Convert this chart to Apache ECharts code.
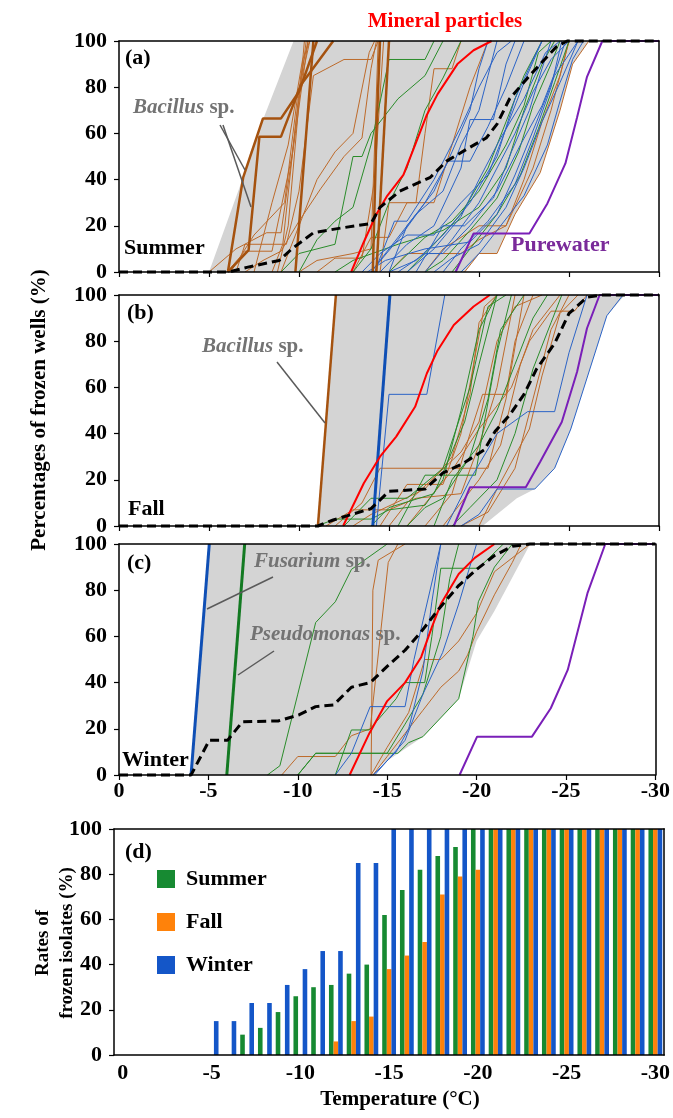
<!DOCTYPE html>
<html>
<head>
<meta charset="utf-8">
<script src="https://cdn.jsdelivr.net/npm/echarts/dist/echarts.min.js"></script>
<style>
  html, body { margin: 0; padding: 0; background: #fff; }
  #chart { width: 673px; height: 1118px; }
</style>
</head>
<body>
<div id="chart"></div>
<script>
const FONT = "'Liberation Serif', 'Times New Roman', serif";

// ---- panel (a) summer : [temperature, % frozen] ----
const aUpper = [[-5,0],[-6.9,41],[-7.3,52],[-9.7,100],[-30,100]];
const aLower = [[-19.2,0],[-20,8],[-21,8],[-22,25],[-23.4,43],[-24.5,70],[-25.2,90],[-26.1,100],[-30,100]];
const aMean = [[0,0],[-6.1,0],[-7.1,2],[-8.9,5],[-9.6,10],[-10.8,17],[-12.3,19],[-14,21],[-14.5,28],[-15.6,35],[-17.3,41],[-18.2,48],[-19.5,54],[-20.4,58],[-21,64],[-21.7,75],[-22.7,84],[-23.4,90],[-24.3,97.5],[-24.9,100],[-30,100]];
const aMineral = [[-12.9,0],[-13.6,13],[-14.3,25],[-14.9,33],[-15.8,42],[-16.5,56],[-17.1,68],[-17.7,77],[-18.8,90],[-19.7,96],[-20.7,100]];
const aWater = [[-18.7,0],[-19.7,16.7],[-22.8,16.7],[-23.8,29.7],[-24.8,47],[-25.45,67],[-26,84.5],[-26.85,100],[-30,100]];
const aBacillus = [
  [[-6.05,0],[-6.9,41],[-8.0,66.5],[-9.0,66.5],[-10.0,78],[-11.0,100]],
  [[-6.05,0],[-7.2,9.5],[-7.8,58.6],[-9.0,58.6],[-10.1,81],[-11.9,100]],
  [[-9.8,0],[-10.2,40],[-10.8,100]],
  [[-14.1,0],[-14.3,60],[-14.5,100]],
  [[-14.3,0],[-15,100]]
];
const aBrown = [
  [[-5,0],[-6.5,10],[-8.2,17],[-9,17],[-9.8,60],[-10.5,100]],
  [[-6,0],[-7,9],[-8.5,9],[-9.6,50],[-10.4,100]],
  [[-6.2,0],[-7.5,16],[-9.2,30],[-9.9,75],[-10.6,100]],
  [[-8.5,0],[-9.1,12],[-10.1,85],[-10.5,100]],
  [[-8.8,0],[-9.4,20],[-10.3,100]],
  [[-7,0],[-8,5],[-9,9],[-10,22],[-11.2,36],[-12.5,50],[-13.5,58],[-14,88],[-14.3,100]],
  [[-9,0],[-10,20],[-11,40],[-12,52],[-13,60],[-13.9,95],[-14.2,100]],
  [[-10,0],[-11,5],[-13,8],[-14,10],[-14.4,100]],
  [[-6.5,0],[-7,12],[-9.3,12],[-10,35],[-10.8,85],[-12.5,92],[-14,92],[-14.4,100]],
  [[-7.5,0],[-8.5,30],[-9.4,55],[-10.2,92],[-10.6,100]],
  [[-11,0],[-12,6],[-13.5,6],[-14.2,40],[-14.7,100]],
  [[-14.5,0],[-15,30],[-16.5,30],[-17,60],[-17.5,88],[-18.5,88],[-19,100]],
  [[-15,0],[-16,8],[-19,8],[-20,14],[-21.5,20],[-23,45],[-24,70],[-25,100]],
  [[-19.2,0],[-20,8],[-21,8],[-22,25],[-23.4,43],[-24.5,70],[-25.2,90],[-26.1,100]],
  [[-13,0],[-14,15],[-15,15],[-16,30],[-17.5,30],[-18.5,55],[-19.5,80],[-20.5,100]],
  [[-17,0],[-18,10],[-20,20],[-21.5,20],[-22.5,40],[-23.5,65],[-24.5,85],[-25,100]]
];
const aGreen = [
  [[-10,0],[-11,14],[-12,22],[-13,28],[-14,55],[-15,92],[-17,92],[-17.5,100]],
  [[-13,0],[-14,10],[-15,30],[-16,45],[-17,70],[-18,84],[-19,100]],
  [[-9,0],[-10,8],[-12,12],[-13,50],[-13.5,50],[-14,60],[-15.5,75],[-17,85],[-18,100]],
  [[-16,0],[-17.5,12],[-19,25],[-20.5,45],[-21.5,65],[-22.5,85],[-23.5,100]],
  [[-17,0],[-18,5],[-19.5,18],[-21,32],[-22.2,52],[-23,72],[-24,90],[-24.5,100]],
  [[-15,0],[-17,15],[-18.5,22],[-20,35],[-21.5,55],[-22.5,72],[-23.3,95],[-24,100]],
  [[-18.5,0],[-19.5,10],[-21,25],[-22.3,42],[-23.3,62],[-24.2,82],[-25,100]],
  [[-12,0],[-13,5],[-15.5,12],[-18,18],[-20,28],[-21.5,45],[-22.5,70],[-23.5,90],[-24.2,100]]
];
const aBlue = [
  [[-14,0],[-15,10],[-16.5,25],[-18,35],[-19,55],[-20,70],[-20.5,85],[-21,100]],
  [[-14.5,0],[-16,12],[-17.5,20],[-19,45],[-19.5,66],[-20.8,66],[-21.5,90],[-22,100]],
  [[-15,0],[-16.5,5],[-18,16],[-19.5,30],[-21,50],[-22,75],[-23,92],[-23.5,100]],
  [[-13.5,0],[-14.5,8],[-16,16],[-17.5,16],[-19,30],[-20.5,42],[-21.5,62],[-22.5,82],[-23.5,100]],
  [[-16,0],[-17.5,10],[-19,24],[-20,40],[-21.2,58],[-22.5,75],[-23.7,95],[-24.5,100]],
  [[-17,0],[-18.5,14],[-20,30],[-21,45],[-22,60],[-23,78],[-24,92],[-25,100]],
  [[-15.5,0],[-17,8],[-18,8],[-19.5,20],[-21,35],[-22.3,55],[-23.5,72],[-24.3,88],[-24.8,100]],
  [[-14,0],[-15.5,14],[-17,30],[-18.3,48],[-19.5,48],[-20.5,63],[-21.5,80],[-22.5,100]],
  [[-18,0],[-19,10],[-20.5,22],[-22,38],[-23,58],[-24,80],[-24.6,100]],
  [[-16.5,0],[-18,20],[-19.2,20],[-20.8,32],[-21.8,52],[-22.8,70],[-23.5,88],[-24,100]],
  [[-13.8,0],[-14.8,5],[-17,10],[-19.5,13],[-21,25],[-22,42],[-23.2,65],[-24.2,85],[-25.5,100]],
  [[-17.5,0],[-18.5,6],[-20,12],[-21.5,28],[-22.5,45],[-23.5,65],[-24.5,82],[-25.5,100]],
  [[-15,0],[-16,20],[-17.5,35],[-18.5,52],[-19.5,70],[-20,88],[-20.5,100]],
  [[-19,0],[-20,8],[-21,18],[-22.5,33],[-23.8,55],[-24.5,74],[-25.2,92],[-25.8,100]],
  [[-14.2,0],[-15.3,22],[-16,22],[-17.5,40],[-19,63],[-20,80],[-21,95],[-21.8,100]]
];

// ---- panel (b) fall ----
const bUpper = [[-11.05,0],[-12.05,100],[-30,100]];
const bLower = [[-20.2,0],[-22.1,12],[-23.1,16],[-24.2,25],[-25.1,42],[-27.1,91],[-28.1,100],[-30,100]];
const bMean = [[0,0],[-11.05,0],[-11.9,2.6],[-14,7.5],[-15,15],[-17,16],[-18,23],[-19.1,27],[-20.3,33],[-20.9,41],[-21.7,48],[-22.5,57],[-23.2,68],[-24.2,79],[-25,92],[-26,99],[-26.8,100],[-30,100]];
const bMineral = [[-12.45,0],[-13.6,18.5],[-14.5,30],[-15.4,38.7],[-16.45,51.6],[-17.1,66],[-17.7,76],[-18.6,87],[-19.7,95],[-20.6,100]];
const bWater = [[-18.6,0],[-19.5,16.8],[-22.6,16.8],[-23.4,27.8],[-24.6,45],[-25.45,66.8],[-26,85.6],[-26.7,100],[-30,100]];
const bBacillus = [[-11.05,0],[-12.05,100]];
const bBlueBold = [[-14.1,0],[-15.05,100]];
const bBrown = [
  [[-11.5,0],[-13,7],[-15,7],[-16.5,12],[-19,14],[-20,35],[-21,60],[-22,100]],
  [[-12,0],[-13.5,10],[-14.5,25],[-20.5,25],[-21.5,55],[-22.5,100]],
  [[-13,0],[-14,5],[-17,16],[-18.5,30],[-19.5,57],[-20,88],[-21,100]],
  [[-15,0],[-16,10],[-19,32],[-20,45],[-21,80],[-22,95],[-23.5,100]],
  [[-17,0],[-18.5,14],[-19.5,40],[-20.2,57],[-21.5,57],[-22,80],[-23,100]],
  [[-18,0],[-19,10],[-20,20],[-21.2,35],[-22.3,70],[-23,85],[-24.5,100]],
  [[-14.5,0],[-16,18],[-18,18],[-19,40],[-19.7,70],[-20.3,95],[-21,100]],
  [[-19,0],[-20.5,6],[-22,25],[-23,55],[-24,85],[-25,100]],
  [[-16,0],[-18.5,24],[-20,42],[-21.8,60],[-22.8,80],[-24,93],[-25.3,93],[-26,100]],
  [[-20,0],[-21,16],[-22.8,42],[-23.5,65],[-24.5,92],[-25.5,100]]
];
const bGreen = [
  [[-11,0],[-12,3],[-14,3],[-15,7],[-17,9],[-18,20],[-19,50],[-20,85],[-21,100]],
  [[-12.5,0],[-14,12],[-16,12],[-18,25],[-19.5,60],[-20.5,95],[-21.5,100]],
  [[-16,0],[-17,8],[-18,12],[-19.5,30],[-20.5,55],[-21.2,85],[-22.5,100]],
  [[-17.5,0],[-18.5,20],[-20,35],[-21,50],[-22,70],[-23,90],[-23.8,100]],
  [[-14,0],[-15,8],[-17.5,14],[-19.2,45],[-20,70],[-21,100]],
  [[-18.5,0],[-19.5,8],[-21,20],[-22,40],[-23,68],[-24,88],[-24.6,100]],
  [[-15.5,0],[-17,22],[-19.8,22],[-20.3,45],[-21,75],[-21.8,100]]
];
const bBlue = [
  [[-14.3,0],[-15,57],[-17.1,57],[-18.1,100]],
  [[-19,0],[-20,5],[-21,16],[-23.1,16],[-24.2,25],[-25.1,42],[-27.1,91],[-28,100]],
  [[-18.2,0],[-19.5,20],[-21,40],[-22.7,49.5],[-24.2,49.5],[-25,75],[-26,100]]
];

// ---- panel (c) winter ----
const cUpper = [[-4.03,0],[-5.05,100],[-30,100]];
const cLower = [[-14.1,0],[-14.6,4],[-17,16.6],[-19,33],[-20,58],[-21,71],[-23,100],[-30,100]];
const cMean = [[0,0],[-4.03,0],[-5.05,15],[-6.07,15],[-6.9,23],[-8.9,23.4],[-10.06,26],[-11,29.6],[-12,30.3],[-13,38],[-14.05,40],[-15,47],[-16,54],[-16.9,62],[-17.9,72],[-19,82],[-20,89],[-21,95],[-22,99],[-23,100],[-30,100]];
const cMineral = [[-12.9,0],[-14,18],[-15,32],[-16,40],[-16.9,51],[-17.5,64],[-18,74],[-19,87],[-19.9,94],[-21,100]];
const cWater = [[-19.05,0],[-20.03,16.6],[-23.1,16.6],[-24.15,28.9],[-25.1,45.5],[-26.2,78.6],[-27.2,100],[-30,100]];
const cFusarium = [[-4.03,0],[-5.05,100]];
const cPseudomonas = [[-6.03,0],[-7.03,100]];
const cBrown = [
  [[-9.1,0],[-10,8],[-12.1,8],[-13,17],[-14.05,20],[-15.06,92],[-15.6,100]],
  [[-14.1,0],[-15,12],[-16.2,27],[-17.1,50],[-18,50],[-19,58],[-20,70],[-21,88],[-23,100]],
  [[-14.2,0],[-15,8],[-16,18],[-17,28],[-18,38],[-19,45],[-19.5,52],[-20,62],[-21,78],[-22,92],[-22.5,100]],
  [[-14.1,0],[-14.2,80],[-14.5,93],[-16,100]]
];
const cGreen = [
  [[-8.3,0],[-9,4],[-10,35],[-11,66],[-12.1,75],[-13,89],[-15,100]],
  [[-10,0],[-11,9.4],[-15,9.4],[-16,22],[-17,35],[-18,60],[-18.5,85],[-19,100]],
  [[-12.1,0],[-13,19.5],[-14,19.5],[-15.5,33],[-16,40],[-17.1,40],[-17.5,60],[-18,89.5],[-20.1,89.5],[-21.5,100]],
  [[-10,0],[-11,9.4],[-15.6,9.4],[-16.2,14],[-17,16.6],[-19,33],[-19.8,60],[-20.1,75],[-21,90],[-22,100]]
];
const cBlue = [
  [[-12.1,0],[-13,9.4],[-14.05,29.6],[-16,29.6],[-16.5,50],[-17.1,70],[-18,100]],
  [[-14.3,0],[-16,15],[-17,35],[-18.1,53],[-19,74],[-20,100]],
  [[-14.2,0],[-15.5,10],[-16.2,20],[-17,45],[-17.5,75],[-18,100]]
];

// ---- panel (d) rates of frozen isolates ----
const tempCats = ['0','-1','-2','-3','-4','-5','-6','-7','-8','-9','-10','-11','-12','-13','-14','-15',
  '-16','-17','-18','-19','-20','-21','-22','-23','-24','-25','-26','-27','-28','-29','-30'];
const summerRate = [0,0,0,0,0,0,0,9,12,19,26,30,31,36,40,62,73,82,88,92,100,100,100,100,100,100,100,100,100,100,100];
const fallRate   = [0,0,0,0,0,0,0,0,0,0,0,0,6,15,17,38,44,50,71,79,82,100,100,100,100,100,100,100,100,100,100];
const winterRate = [0,0,0,0,0,15,15,23,23,31,38,46,46,85,85,100,100,100,100,100,100,100,100,100,100,100,100,100,100,100,100];

const BROWN = '#bd6a2a', BROWN_BOLD = '#a5520f';
const GREEN = '#2a8c2a', BLUE = '#2b63c6';
const TICK_FS = 22, TEXT_FS = 22;

const series = [];

function envelope(gi, pts, color, z) {
  series.push({
    type: 'line', xAxisIndex: gi * 2, yAxisIndex: gi * 2, data: pts,
    symbol: 'none', silent: true, z: z,
    lineStyle: { width: 0 }, areaStyle: { color: color, opacity: 1 }
  });
}

function lines(gi, list, color, width, z) {
  list.forEach(pts => {
    series.push({
      type: 'line', xAxisIndex: gi * 2, yAxisIndex: gi * 2, data: pts,
      symbol: 'none', silent: true, z: z,
      lineStyle: { color: color, width: width }
    });
  });
}

function dashed(gi, pts) {
  series.push({
    type: 'line', xAxisIndex: gi * 2, yAxisIndex: gi * 2, data: pts,
    symbol: 'none', silent: true, z: 8, clip: false,
    lineStyle: { color: '#000', width: 3, type: [9, 5] }
  });
}

// (a)
envelope(0, aUpper, '#d4d4d4', 1);
envelope(0, aLower, '#ffffff', 2);
lines(0, aBrown, BROWN, 1, 3);
lines(0, aGreen, GREEN, 1, 3);
lines(0, aBlue, BLUE, 1, 3);
lines(0, aBacillus, BROWN_BOLD, 2.5, 4);
lines(0, [aMineral], '#ff0000', 2, 5);
lines(0, [aWater], '#7a1fb8', 2, 5);
dashed(0, aMean);

// (b)
envelope(1, bUpper, '#d4d4d4', 1);
envelope(1, bLower, '#ffffff', 2);
lines(1, bBrown, BROWN, 1, 3);
lines(1, bGreen, GREEN, 1, 3);
lines(1, bBlue, BLUE, 1, 3);
lines(1, [bBacillus], BROWN_BOLD, 2.5, 4);
lines(1, [bBlueBold], '#0f4fb5', 3, 4);
lines(1, [bMineral], '#ff0000', 2, 5);
lines(1, [bWater], '#7a1fb8', 2, 5);
dashed(1, bMean);

// (c)
envelope(2, cUpper, '#d4d4d4', 1);
envelope(2, cLower, '#ffffff', 2);
lines(2, cBrown, BROWN, 1, 3);
lines(2, cGreen, GREEN, 1, 3);
lines(2, cBlue, BLUE, 1, 3);
lines(2, [cFusarium], '#0f4fb5', 3, 4);
lines(2, [cPseudomonas], '#137a22', 3, 4);
lines(2, [cMineral], '#ff0000', 2, 5);
lines(2, [cWater], '#7a1fb8', 2, 5);
dashed(2, cMean);

// (d)
const barColors = { Summer: '#178a32', Fall: '#ff820a', Winter: '#1456c8' };
[['Summer', summerRate], ['Fall', fallRate], ['Winter', winterRate]].forEach(([name, vals]) => {
  series.push({
    type: 'bar', name: name, xAxisIndex: 6, yAxisIndex: 6, data: vals,
    barWidth: 4.6, barGap: '0%', itemStyle: { color: barColors[name] }, silent: true
  });
});

const axisLine = { show: true, onZero: false, lineStyle: { color: '#000', width: 1.5 } };
const labelStyle = { fontFamily: FONT, fontWeight: 'bold', fontSize: TICK_FS, color: '#000' };

const grids = [
  { left: 119, top: 41, width: 540, height: 231 },
  { left: 119, top: 295, width: 540, height: 231 },
  { left: 119, top: 544, width: 540, height: 231 },
  { left: 114, top: 829, width: 551, height: 226 }
];

const xAxes = [], yAxes = [];
for (let i = 0; i < 3; i++) {
  xAxes.push({
    gridIndex: i, type: 'value', min: -30, max: 0, interval: 5, inverse: true, z: 10,
    axisLine: axisLine, axisTick: { show: true, length: 5, lineStyle: { color: '#000', width: 1.2 } },
    axisLabel: Object.assign({ show: i === 2, margin: 5 }, labelStyle), splitLine: { show: false }
  });
  xAxes.push({
    gridIndex: i, type: 'value', position: 'top', min: -30, max: 0, inverse: true, z: 10,
    axisLine: axisLine, axisTick: { show: false }, axisLabel: { show: false }, splitLine: { show: false }
  });
  yAxes.push({
    gridIndex: i, type: 'value', min: 0, max: 100, interval: 20, z: 10,
    axisLine: axisLine, axisTick: { show: true, length: 5, lineStyle: { color: '#000', width: 1.2 } },
    axisLabel: Object.assign({ margin: 12 }, labelStyle), splitLine: { show: false }
  });
  yAxes.push({
    gridIndex: i, type: 'value', position: 'right', min: 0, max: 100, z: 10,
    axisLine: axisLine, axisTick: { show: false }, axisLabel: { show: false }, splitLine: { show: false }
  });
}
xAxes.push({
  gridIndex: 3, type: 'category', data: tempCats, z: 10,
  axisLine: axisLine, axisTick: { show: false },
  axisLabel: Object.assign({ interval: 4, margin: 7 }, labelStyle), splitLine: { show: false }
});
xAxes.push({
  gridIndex: 3, type: 'value', position: 'top', min: 0, max: 1, z: 10,
  axisLine: axisLine, axisTick: { show: false }, axisLabel: { show: false }, splitLine: { show: false }
});
yAxes.push({
  gridIndex: 3, type: 'value', min: 0, max: 100, interval: 20, z: 10,
  axisLine: axisLine, axisTick: { show: true, length: 5, lineStyle: { color: '#000', width: 1.2 } },
  axisLabel: Object.assign({ margin: 12 }, labelStyle), splitLine: { show: false }
});
yAxes.push({
  gridIndex: 3, type: 'value', position: 'right', min: 0, max: 100, z: 10,
  axisLine: axisLine, axisTick: { show: false }, axisLabel: { show: false }, splitLine: { show: false }
});

function txt(x, y, text, opts) {
  const st = Object.assign({
    text: text, fontFamily: FONT, fontWeight: 'bold', fontSize: TEXT_FS, fill: '#000',
    align: 'left', verticalAlign: 'middle', textAlign: 'left', textVerticalAlign: 'middle'
  }, opts || {});
  return { type: 'text', x: x, y: y, z: 100, style: st };
}
function italicSp(x, y, word) {
  return txt(x, y, '{i|' + word + '} sp.', {
    fill: '#737373', fontSize: 21,
    rich: { i: { fontStyle: 'italic', fontWeight: 'bold', fontSize: 21, fontFamily: FONT, fill: '#737373', color: '#737373' } }
  });
}
function pointer(x1, y1, x2, y2) {
  return { type: 'line', z: 100, shape: { x1, y1, x2, y2 }, style: { stroke: '#5a5a5a', lineWidth: 1.5 } };
}

const graphics = [
  txt(445, 22, 'Mineral particles', { fill: '#ff0000', fontSize: 21, align: 'center', textAlign: 'center' }),
  txt(125, 58, '(a)'), txt(127, 313, '(b)'), txt(127, 563, '(c)'), txt(125, 852, '(d)'),
  txt(124, 248, 'Summer'), txt(128, 509, 'Fall'), txt(122, 760, 'Winter'),
  txt(511, 245, 'Purewater', { fill: '#7a2a9a' }),
  italicSp(133, 108, 'Bacillus'),
  pointer(220, 125, 245, 170), pointer(223, 125, 251, 207),
  italicSp(202, 347, 'Bacillus'),
  pointer(277, 362, 325, 423),
  italicSp(254, 562, 'Fusarium'),
  pointer(273, 577, 207, 609),
  italicSp(250, 635, 'Pseudomonas'),
  pointer(274, 651, 238, 675),
  {
    type: 'text', x: 40, y: 410, rotation: Math.PI / 2, z: 100,
    style: { text: 'Percentages of frozen wells (%)', fontFamily: FONT, fontWeight: 'bold', fontSize: 21, fill: '#000',
      align: 'center', verticalAlign: 'middle', textAlign: 'center', textVerticalAlign: 'middle' }
  },
  {
    type: 'text', x: 55, y: 943, rotation: Math.PI / 2, z: 100,
    style: { text: 'Rates of\nfrozen isolates (%)', fontFamily: FONT, fontWeight: 'bold', fontSize: 19, fill: '#000',
      lineHeight: 24, align: 'center', verticalAlign: 'middle', textAlign: 'center', textVerticalAlign: 'middle' }
  },
  txt(400, 1100, 'Temperature (\u00B0C)', { fontSize: 21, align: 'center', textAlign: 'center' })
];

const chart = echarts.init(document.getElementById('chart'), null, { renderer: 'canvas' });
chart.setOption({
  animation: false,
  backgroundColor: '#fff',
  grid: grids,
  xAxis: xAxes,
  yAxis: yAxes,
  legend: {
    data: ['Summer', 'Fall', 'Winter'], orient: 'vertical', left: 157, top: 868,
    itemWidth: 18, itemHeight: 18, itemGap: 21, icon: 'rect', padding: 0,
    textStyle: { fontFamily: FONT, fontWeight: 'bold', fontSize: 22, color: '#000', padding: [0, 0, 0, 6] }
  },
  series: series,
  graphic: graphics
});
</script>
</body>
</html>
